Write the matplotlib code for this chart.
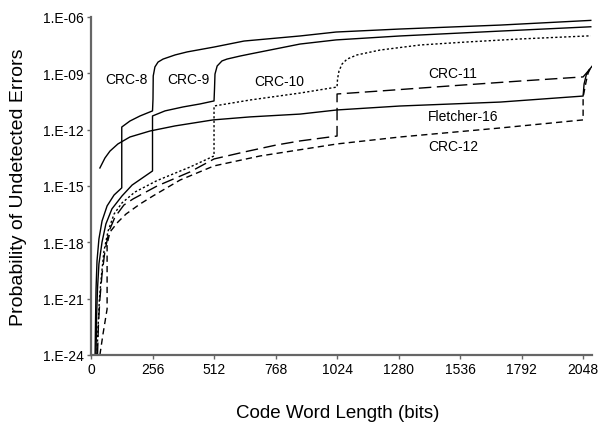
#!/usr/bin/env python3

import matplotlib
matplotlib.use('Agg')
import matplotlib.pyplot as plt
import numpy as np

plt.rcParams['font.family'] = ['Liberation Sans', 'DejaVu Sans']

# code word length (bits) and log10 of probability of undetected errors
crc8_x = [17, 19, 21, 25, 33, 46, 67, 96, 128, 128, 162, 204, 256, 258, 259, 266, 279, 300,
          350, 400, 512, 637, 870, 1020, 1286, 1703, 2065, 2080]
crc8_y = [-24.0, -22.08, -20.48, -18.99, -17.82, -16.86, -16.06, -15.48, -15.1, -11.86, -11.54,
          -11.27, -11.0, -10.37, -9.14, -8.66, -8.40, -8.24, -8.02, -7.86, -7.60, -7.28, -7.01,
          -6.80, -6.64, -6.43, -6.19, -6.18]

crc9_x = [21, 23, 27, 33, 46, 62, 87, 129, 171, 256, 256, 308, 383, 454, 512, 514, 516, 525,
          545, 566, 620, 662, 870, 1020, 1286, 1703, 2065, 2080]
crc9_y = [-24.0, -22.08, -20.48, -19.15, -17.98, -17.02, -16.22, -15.53, -14.95, -14.2, -11.27,
          -11.0, -10.79, -10.63, -10.47, -9.83, -9.04, -8.61, -8.34, -8.24, -8.08, -7.97, -7.44,
          -7.22, -7.01, -6.75, -6.53, -6.52]

crc10_x = [25, 29, 35, 44, 54, 71, 96, 129, 183, 275, 412, 512, 512, 662, 870, 1024, 1026,
           1032, 1045, 1066, 1107, 1203, 1370, 1565, 1786, 2065, 2080]
crc10_y = [-24.0, -22.61, -21.02, -19.69, -18.46, -17.4, -16.49, -15.9, -15.32, -14.71, -13.99,
           -13.40, -10.74, -10.42, -10.05, -9.73, -9.30, -8.88, -8.50, -8.24, -8.02, -7.76, -7.49,
           -7.33, -7.17, -7.01, -7.00]

crc11_x = [27, 31, 37, 46, 58, 75, 100, 137, 175, 275, 412, 512, 637, 770, 870, 1024, 1024,
           1203, 1495, 1786, 2048, 2069, 2082]
crc11_y = [-24.0, -22.35, -21.02, -19.69, -18.46, -17.4, -16.65, -16.01, -15.69, -15.0, -14.25,
           -13.56, -13.19, -12.82, -12.6, -12.34, -10.10, -9.94, -9.67, -9.41, -9.19, -8.88, -8.66]

crc12_x = [37, 50, 67, 67, 79, 112, 146, 204, 258, 371, 512, 704, 1024, 1286, 1703, 2048, 2048,
           2061, 2069, 2077]
crc12_y = [-24.0, -22.88, -21.55, -18.09, -17.45, -16.92, -16.49, -15.96, -15.53, -14.68, -13.93,
           -13.40, -12.76, -12.39, -11.91, -11.48, -10.26, -9.41, -8.98, -8.77]

fl16_x = [37, 58, 79, 112, 162, 246, 350, 508, 662, 870, 1024, 1286, 1703, 2048, 2052, 2061,
          2073, 2086]
fl16_y = [-14.04, -13.51, -13.14, -12.76, -12.39, -12.07, -11.80, -11.48, -11.32, -11.17, -10.95,
          -10.74, -10.53, -10.21, -9.57, -9.09, -8.82, -8.61]

x_ticks = [0, 256, 512, 768, 1024, 1280, 1536, 1792, 2048]
y_ticks = [1e-24, 1e-21, 1e-18, 1e-15, 1e-12, 1e-09, 1e-06]
y_tick_labels = ['1.E-24', '1.E-21', '1.E-18', '1.E-15', '1.E-12', '1.E-09', '1.E-06']

labels = ['CRC-8', 'CRC-9', 'CRC-10', 'CRC-11', 'Fletcher-16', 'CRC-12']
label_x = [146, 404, 783, 1403, 1403, 1403]
label_y = [-9.30, -9.30, -9.41, -8.98, -11.27, -12.87]
label_ha = ['center', 'center', 'center', 'left', 'left', 'left']


def main():
    fig = plt.figure(figsize=(5.98, 4.27), dpi=100)
    ax = fig.add_axes([91 / 598, 1 - 356 / 427, 501 / 598, 338 / 427])

    series = [
        (crc8_x, crc8_y, '-'),
        (crc9_x, crc9_y, '-'),
        (fl16_x, fl16_y, '-'),
        (crc10_x, crc10_y, (0, (1.6, 1.6))),
        (crc11_x, crc11_y, (0, (9, 4))),
        (crc12_x, crc12_y, (0, (4.5, 3))),
    ]
    for xs, ys, ls in series:
        ax.plot(xs, 10 ** np.array(ys), color='black', lw=1.0, linestyle=ls)

    ax.set_yscale('log')
    ax.set_xlim(0, 2085)
    ax.set_ylim(1e-24, 1e-06)
    ax.set_xticks(x_ticks)
    ax.set_yticks(y_ticks)
    ax.set_yticklabels(y_tick_labels)
    ax.minorticks_off()
    ax.tick_params(labelsize=10, length=3, width=1, color='#666666', pad=2)

    for s in ['top', 'right']:
        ax.spines[s].set_visible(False)
    for s in ['left', 'bottom']:
        ax.spines[s].set_color('#666666')
        ax.spines[s].set_linewidth(1.6)

    for t, x, y, ha in zip(labels, label_x, label_y, label_ha):
        ax.text(x, 10 ** y, t, fontsize=10, ha=ha, va='center')

    fig.text(19 / 598, 1 - 187 / 427, 'Probability of Undetected Errors', rotation=90,
             ha='center', va='center', fontsize=14)
    fig.text(338 / 598, 1 - 414 / 427, 'Code Word Length (bits)',
             ha='center', va='center', fontsize=13.5)

    fig.savefig('out.png', dpi=100)


if __name__ == "__main__":
    main()
